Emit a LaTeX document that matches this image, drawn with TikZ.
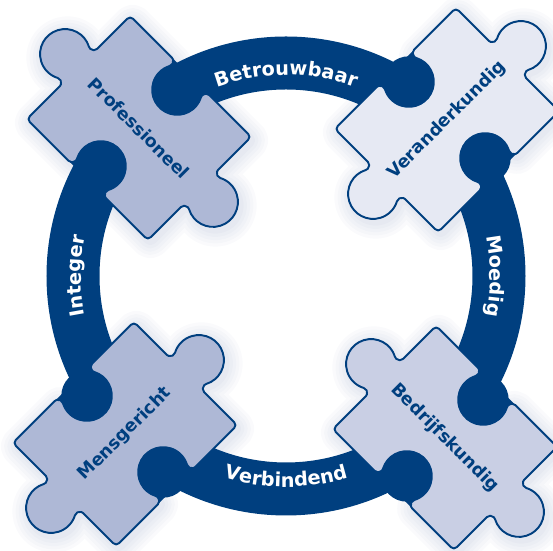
\documentclass[tikz,border=0pt]{standalone}
\usepackage{fontspec}
\setmainfont{DejaVu Sans}
\usetikzlibrary{decorations.text}
\definecolor{ringblue}{HTML}{003F7F}
\definecolor{piecedark}{HTML}{AEB8D6}
\definecolor{piecemid}{HTML}{C9CFE4}
\definecolor{piecelight}{HTML}{E6E9F3}
\definecolor{glowblue}{HTML}{7A8AB5}

% one puzzle piece, centred on the origin: knobs left/right, blanks top/bottom
\newcommand{\piecepath}{%
  (-81.5,-73) -- (-26.5,-73)
  arc[start angle=-90,end angle=27.9,radius=5]
  arc[start angle=207.9,end angle=-27.9,radius=25]
  arc[start angle=152.1,end angle=270,radius=5]
  -- (81.5,-73) arc[start angle=-90,end angle=0,radius=4]
  -- (85.5,-26.5)
  arc[start angle=180,end angle=62.1,radius=5]
  arc[start angle=-117.9,end angle=117.9,radius=25]
  arc[start angle=-62.1,end angle=-180,radius=5]
  -- (85.5,69) arc[start angle=0,end angle=90,radius=4]
  -- (26.5,73)
  arc[start angle=90,end angle=207.9,radius=5]
  arc[start angle=27.9,end angle=-207.9,radius=25]
  arc[start angle=-27.9,end angle=90,radius=5]
  -- (-81.5,73) arc[start angle=90,end angle=180,radius=4]
  -- (-85.5,26.5)
  arc[start angle=0,end angle=-117.9,radius=5]
  arc[start angle=62.1,end angle=297.9,radius=25]
  arc[start angle=117.9,end angle=0,radius=5]
  -- (-85.5,-69) arc[start angle=180,end angle=270,radius=4]
  -- cycle}
% band ends that show through the two blanks
\newcommand{\blankfill}{%
  \fill[blank] (0,-54) circle[radius=25.5];
  \fill[blank] (-27,-73) rectangle (27,-54);
  \fill[blank] (0,54) circle[radius=25.5];
  \fill[blank] (-27,54) rectangle (27,73);}

\begin{document}
\begin{tikzpicture}[
  x=0.2mm,y=0.2mm,
  piece/.style={draw=ringblue,line width=1.1pt,line join=round},
  blank/.style={fill=ringblue},
  glow/.style={draw=glowblue,opacity=.04,line join=round},
  piecelabel/.style={font=\fontsize{10}{12}\selectfont\bfseries,
                     text=ringblue,inner sep=0pt},
  ringlabel/.style={decorate,decoration={text along path,text align=center,
                    text color=white,
                    text={|\fontsize{11}{13}\selectfont\bfseries|#1}}}
]
\useasboundingbox (0,0) rectangle (553,551);

\coordinate (ringc) at (286,275);
\coordinate (profc) at (139,423);
\coordinate (verc) at (447,431);
\coordinate (mensc) at (125,117);
\coordinate (bedc) at (445,113);

% soft shadow round the pieces
\foreach \c/\a in {profc/-45,verc/45,mensc/45,bedc/-45}{
  \begin{scope}[shift={(\c)},xshift=.5mm,yshift=-.7mm,rotate=\a]
    \foreach \w in {1,...,5}
      \draw[glow,line width=\w*1.3mm] \piecepath;
  \end{scope}
}

% ring
\draw[ringblue,line width=10.6mm] (ringc) circle[radius=213];

% pieces
\begin{scope}[shift={(profc)},rotate=-45]
  \blankfill
  \filldraw[piece,fill=piecedark] \piecepath;
\end{scope}
\begin{scope}[shift={(verc)},rotate=45]
  \blankfill
  \filldraw[piece,fill=piecelight] \piecepath;
\end{scope}
\begin{scope}[shift={(mensc)},rotate=45]
  \blankfill
  \filldraw[piece,fill=piecedark] \piecepath;
\end{scope}
\begin{scope}[shift={(bedc)},rotate=-45]
  \blankfill
  \filldraw[piece,fill=piecemid] \piecepath;
\end{scope}

\node[piecelabel,rotate=-45] (prof) at (profc) {Professioneel};
\node[piecelabel,rotate=45] (verand) at (verc) {Veranderkundig};
\node[piecelabel,rotate=45] (mens) at (mensc) {Mensgericht};
\node[piecelabel,rotate=-45] (bedrijf) at (bedc) {Bedrijfskundig};

% labels on the ring
\begin{scope}[shift={(ringc)}]
  \path[ringlabel=Betrouwbaar] (150:201) arc[start angle=150,end angle=30,radius=201];
  \path[ringlabel=Moedig] (30:204) arc[start angle=30,end angle=-30,radius=204];
  \path[ringlabel=Verbindend] (240:211) arc[start angle=240,end angle=300,radius=211];
  \path[ringlabel=Integer] (210:205) arc[start angle=210,end angle=150,radius=205];
\end{scope}
\end{tikzpicture}
\end{document}
